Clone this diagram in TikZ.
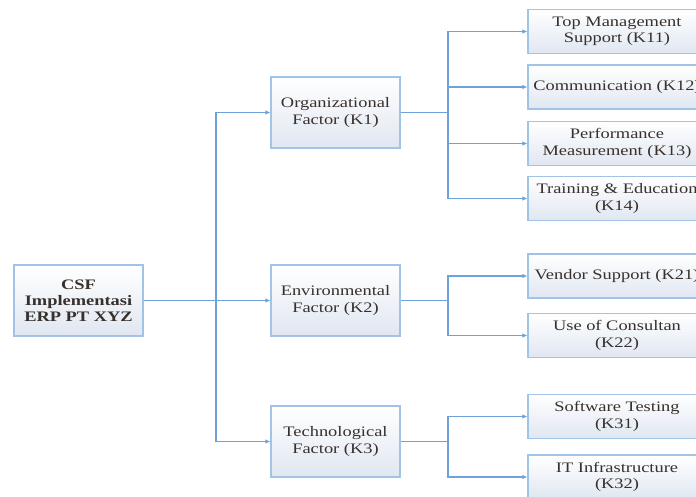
\documentclass[tikz,border=0pt]{standalone}
\usepackage{fontspec}
\setmainfont{Liberation Serif}[FakeStretch=1.27]
\usetikzlibrary{arrows.meta}
\definecolor{boxline}{RGB}{160,195,230}
\definecolor{connline}{RGB}{110,163,218}
\definecolor{txt}{RGB}{55,48,44}
\definecolor{boxbot}{RGB}{224,231,241}
\tikzset{
  base/.style={draw=boxline, line width=1.2pt, top color=white, bottom color=boxbot,
    text=txt, align=center, inner sep=0pt, font=\fontsize{14.5}{16.5}\selectfont},
  rootbox/.style={base, minimum width=129pt, minimum height=71pt, font=\fontsize{14.5}{16}\selectfont\bfseries},
  midbox/.style={base, minimum width=129pt, minimum height=71pt},
  leafbox/.style={base, minimum width=178pt, minimum height=44pt},
  conn/.style={draw=connline, line width=1.1pt, -{Latex[length=5pt,width=4.5pt]}},
}
\begin{document}
\begin{tikzpicture}[x=1pt,y=-1pt]
\useasboundingbox (0,0) rectangle (696,497);
\node[rootbox] (root) at (78.5,300.5) {CSF\\Implementasi\\ERP PT XYZ};
\node[midbox] (k1) at (335.5,112.5) {Organizational\\Factor (K1)};
\node[midbox] (k2) at (335.5,300.5) {Environmental\\Factor (K2)};
\node[midbox] (k3) at (335.5,441.5) {Technological\\Factor (K3)};
\node[leafbox] (k11) at (617,31.5) {Top Management\\Support (K11)};
\node[leafbox] (k12) at (617,87) {Communication (K12)};
\node[leafbox] (k13) at (617,143.5) {Performance\\Measurement (K13)};
\node[leafbox] (k14) at (617,198.5) {Training \& Education\\(K14)};
\node[leafbox] (k21) at (617,276) {Vendor Support (K21)};
\node[leafbox] (k22) at (617,335.5) {Use of Consultan\\(K22)};
\node[leafbox] (k31) at (617,416.5) {Software Testing\\(K31)};
\node[leafbox] (k32) at (617,477) {IT Infrastructure\\(K32)};
\coordinate (t0) at (216,300.5);
\coordinate (t1) at (448,112.5);
\coordinate (t2) at (448,300.5);
\coordinate (t3) at (448,441.5);
\foreach \m in {k1,k2,k3} \draw[conn] (root.east) -- (t0) |- (\m.west);
\foreach \l in {k11,k12,k13,k14} \draw[conn] (k1.east) -- (t1) |- (\l.west);
\foreach \l in {k21,k22} \draw[conn] (k2.east) -- (t2) |- (\l.west);
\foreach \l in {k31,k32} \draw[conn] (k3.east) -- (t3) |- (\l.west);
\end{tikzpicture}
\end{document}
